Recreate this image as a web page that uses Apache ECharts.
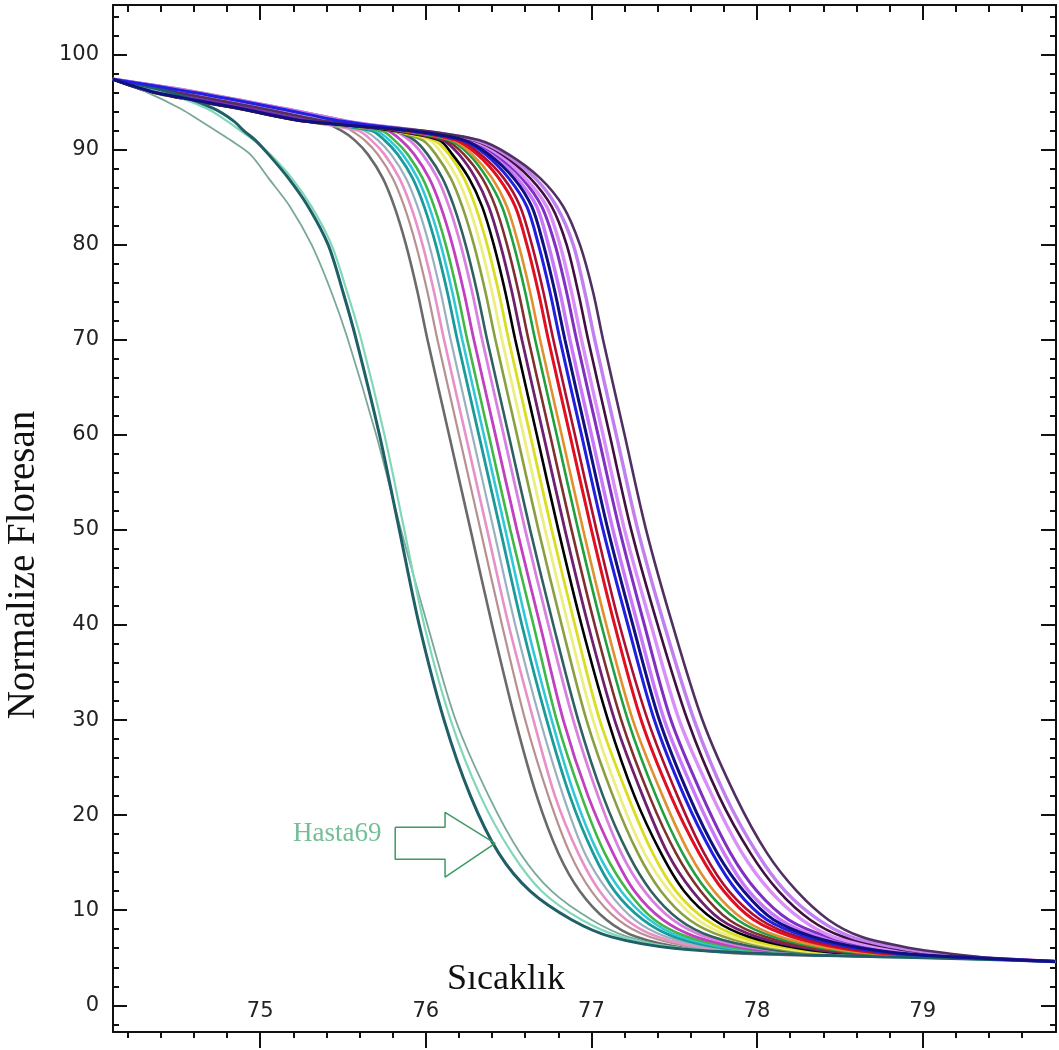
<!DOCTYPE html>
<html>
<head>
<meta charset="utf-8">
<script src="https://cdn.jsdelivr.net/npm/echarts/dist/echarts.min.js"></script>
<style>
html,body{margin:0;padding:0;background:#fff;}
#chart{width:1059px;height:1050px;}
</style>
</head>
<body>
<div id="chart"></div>
<script>
// Fluorescence levels (%) at which each curve's temperature was read
const levels = [97.4, 96.0, 94.3, 93.0, 92.0, 91.0, 89.5, 87, 84, 80, 75, 70, 60, 50, 40, 30, 22, 16, 12, 9, 7.2, 6.0, 5.4, 5.0, 4.6];

// Temperature (°C) at which each curve reaches the level above
const g1 = [74.11, 74.32, 74.52, 74.64, 74.73, 74.82, 74.94, 75.05, 75.18, 75.31, 75.43, 75.53, 75.70, 75.85, 76.01, 76.18, 76.38, 76.57, 76.76, 77.00, 77.22, 77.55, 78.20, 79.0, 79.8];
const g2 = [74.11, 74.42, 74.68, 74.80, 74.88, 74.96, 75.06, 75.19, 75.31, 75.43, 75.525, 75.61, 75.75, 75.87, 75.99, 76.15, 76.33, 76.52, 76.70, 76.94, 77.18, 77.55, 78.20, 79.0, 79.8];
const g3 = [74.11, 74.46, 74.72, 74.84, 74.90, 74.97, 75.05, 75.17, 75.29, 75.41, 75.50, 75.58, 75.72, 75.84, 75.96, 76.11, 76.27, 76.44, 76.63, 76.88, 77.12, 77.50, 78.10, 79.0, 79.8];
const m1 = [74.11, 74.48, 75.00, 75.36, 75.49, 75.57, 75.65, 75.74, 75.81, 75.88, 75.95, 76.01, 76.14, 76.27, 76.40, 76.54, 76.67, 76.80, 76.93, 77.09, 77.27, 77.57, 77.97, 79.3, 79.8];
const m2 = [74.11, 74.60, 75.12, 75.45, 75.55, 75.63, 75.71, 75.80, 75.87, 75.94, 76.01, 76.07, 76.20, 76.33, 76.46, 76.60, 76.74, 76.87, 77.00, 77.16, 77.35, 77.65, 78.04, 79.3, 79.8];
const m3 = [74.11, 74.36, 74.88, 75.26, 75.59, 75.67, 75.75, 75.84, 75.91, 75.98, 76.05, 76.11, 76.24, 76.37, 76.50, 76.65, 76.78, 76.92, 77.05, 77.21, 77.40, 77.70, 78.08, 79.3, 79.8];
const m4 = [74.11, 74.62, 75.14, 75.50, 75.63, 75.71, 75.79, 75.88, 75.95, 76.02, 76.09, 76.15, 76.28, 76.41, 76.54, 76.69, 76.83, 76.96, 77.10, 77.26, 77.45, 77.75, 78.13, 79.3, 79.8];
const m5 = [74.11, 74.38, 74.90, 75.28, 75.67, 75.75, 75.83, 75.92, 75.99, 76.06, 76.13, 76.19, 76.32, 76.45, 76.58, 76.73, 76.87, 77.01, 77.14, 77.31, 77.50, 77.80, 78.18, 79.3, 79.8];
const m6 = [74.11, 74.58, 75.11, 75.48, 75.70, 75.78, 75.86, 75.95, 76.02, 76.09, 76.16, 76.22, 76.35, 76.48, 76.61, 76.76, 76.90, 77.04, 77.18, 77.35, 77.54, 77.84, 78.21, 79.3, 79.8];
const m7 = [74.11, 74.35, 74.87, 75.25, 75.73, 75.81, 75.89, 75.98, 76.05, 76.12, 76.19, 76.25, 76.38, 76.51, 76.65, 76.79, 76.94, 77.08, 77.22, 77.38, 77.58, 77.88, 78.24, 79.3, 79.8];
const m8 = [74.11, 74.63, 75.15, 75.52, 75.77, 75.85, 75.93, 76.02, 76.09, 76.16, 76.23, 76.29, 76.42, 76.55, 76.69, 76.83, 76.98, 77.13, 77.26, 77.43, 77.63, 77.93, 78.29, 79.3, 79.8];
const m9 = [74.11, 74.40, 74.92, 75.30, 75.80, 75.90, 75.98, 76.07, 76.14, 76.21, 76.28, 76.34, 76.47, 76.60, 76.74, 76.89, 77.04, 77.18, 77.32, 77.49, 77.69, 77.99, 78.35, 79.3, 79.8];
const m10 = [74.11, 74.52, 75.04, 75.40, 75.80, 75.93, 76.01, 76.10, 76.17, 76.24, 76.31, 76.37, 76.50, 76.63, 76.77, 76.92, 77.07, 77.22, 77.36, 77.53, 77.73, 78.03, 78.38, 79.3, 79.8];
const m11 = [74.11, 74.61, 75.13, 75.50, 75.80, 75.98, 76.06, 76.15, 76.22, 76.29, 76.36, 76.42, 76.55, 76.68, 76.82, 76.97, 77.13, 77.28, 77.42, 77.59, 77.80, 78.10, 78.44, 79.3, 79.8];
const m12 = [74.11, 74.37, 74.89, 75.27, 75.80, 76.02, 76.10, 76.19, 76.26, 76.33, 76.40, 76.46, 76.59, 76.72, 76.86, 77.01, 77.17, 77.32, 77.47, 77.64, 77.85, 78.15, 78.48, 79.3, 79.8];
const m13 = [74.11, 74.64, 75.15, 75.52, 75.80, 76.05, 76.14, 76.23, 76.30, 76.37, 76.44, 76.50, 76.63, 76.76, 76.90, 77.05, 77.22, 77.37, 77.51, 77.69, 77.90, 78.20, 78.53, 79.3, 79.8];
const m14 = [74.11, 74.41, 74.93, 75.31, 75.80, 76.08, 76.16, 76.26, 76.34, 76.41, 76.48, 76.54, 76.67, 76.80, 76.94, 77.10, 77.26, 77.42, 77.56, 77.74, 77.95, 78.25, 78.57, 79.3, 79.8];
const m15 = [74.11, 74.57, 75.09, 75.46, 75.82, 76.10, 76.20, 76.30, 76.38, 76.45, 76.52, 76.58, 76.71, 76.84, 76.98, 77.14, 77.31, 77.46, 77.61, 77.78, 78.00, 78.30, 78.62, 79.3, 79.8];
const m16 = [74.11, 74.35, 74.87, 75.25, 75.84, 76.12, 76.23, 76.34, 76.42, 76.49, 76.56, 76.62, 76.75, 76.88, 77.02, 77.18, 77.35, 77.51, 77.66, 77.83, 78.05, 78.35, 78.67, 79.3, 79.8];
const m17 = [74.11, 74.62, 75.13, 75.50, 75.85, 76.14, 76.26, 76.37, 76.46, 76.53, 76.60, 76.66, 76.79, 76.92, 77.06, 77.22, 77.39, 77.55, 77.70, 77.88, 78.10, 78.40, 78.71, 79.3, 79.8];
const m18 = [74.11, 74.43, 74.95, 75.33, 75.86, 76.16, 76.28, 76.40, 76.49, 76.56, 76.63, 76.69, 76.82, 76.95, 77.09, 77.25, 77.43, 77.59, 77.74, 77.92, 78.14, 78.44, 78.75, 79.3, 79.8];
const m19 = [74.11, 74.56, 75.08, 75.45, 75.88, 76.18, 76.31, 76.44, 76.54, 76.61, 76.68, 76.74, 76.87, 77.00, 77.14, 77.30, 77.48, 77.65, 77.80, 77.98, 78.21, 78.51, 78.80, 79.3, 79.8];
const m20 = [74.11, 74.39, 74.91, 75.29, 75.88, 76.20, 76.33, 76.47, 76.57, 76.64, 76.71, 76.77, 76.90, 77.03, 77.17, 77.34, 77.52, 77.68, 77.83, 78.02, 78.25, 78.55, 78.84, 79.3, 79.8];
const m21 = [74.11, 74.60, 75.12, 75.49, 75.90, 76.22, 76.36, 76.50, 76.61, 76.68, 76.75, 76.81, 76.94, 77.07, 77.22, 77.38, 77.56, 77.73, 77.88, 78.06, 78.30, 78.60, 78.88, 79.3, 79.8];
const m22 = [74.11, 74.37, 74.89, 75.27, 75.90, 76.23, 76.38, 76.53, 76.64, 76.71, 76.78, 76.84, 76.97, 77.10, 77.25, 77.41, 77.59, 77.76, 77.92, 78.10, 78.34, 78.64, 78.92, 79.3, 79.8];
const m23 = [74.11, 74.63, 75.15, 75.52, 75.92, 76.24, 76.40, 76.55, 76.67, 76.74, 76.81, 76.87, 77.00, 77.13, 77.28, 77.44, 77.63, 77.80, 77.95, 78.14, 78.37, 78.67, 78.95, 79.3, 79.8];
const m24 = [74.11, 74.42, 74.94, 75.32, 75.93, 76.26, 76.42, 76.58, 76.70, 76.78, 76.85, 76.91, 77.04, 77.17, 77.32, 77.48, 77.67, 77.84, 78.00, 78.19, 78.43, 78.73, 79.00, 79.3, 79.8];
const m25 = [74.11, 74.59, 75.10, 75.47, 75.94, 76.27, 76.44, 76.60, 76.73, 76.81, 76.88, 76.94, 77.07, 77.20, 77.36, 77.53, 77.73, 77.91, 78.08, 78.27, 78.46, 78.76, 79.03, 79.32, 79.8];
const m26 = [74.11, 74.36, 74.88, 75.26, 75.95, 76.28, 76.46, 76.63, 76.76, 76.85, 76.92, 76.98, 77.11, 77.24, 77.40, 77.58, 77.77, 77.96, 78.13, 78.32, 78.52, 78.82, 79.08, 79.34, 79.8];
const m27 = [74.11, 74.61, 75.13, 75.50, 75.96, 76.30, 76.48, 76.66, 76.79, 76.89, 76.96, 77.02, 77.15, 77.28, 77.44, 77.62, 77.81, 78.00, 78.17, 78.37, 78.57, 78.87, 79.12, 79.36, 79.8];
const m28 = [74.11, 74.50, 75.02, 75.40, 75.98, 76.32, 76.50, 76.69, 76.83, 76.93, 77.01, 77.07, 77.20, 77.33, 77.49, 77.67, 77.87, 78.06, 78.24, 78.43, 78.63, 78.93, 79.18, 79.40, 79.8];

// drawing order (last drawn on top)
const curveList = [m1, m2, m3, m4, m5, m6, m7, m8, m9, m10, m11, m12, m13, m14, m15, m16, m17, m18, m19, m20, m23, m24, m25, m26, m27, m28, g1, g2, g3, m21, m22];
const curveColors = ['#6a6a6a', '#b89090', '#e890c8', '#9ab0c0', '#1a9a9a', '#30c8d8', '#40b848', '#c040c0', '#d880e0', '#306060', '#8aa040', '#eeee80', '#dcdc20', '#000000', '#702070', '#803030', '#20a040', '#e09030', '#e01020', '#b01030', '#c878f8', '#8030c0', '#d890f8', '#401040', '#c080f0', '#503060', '#7aa898', '#80d8b8', '#1f6068', '#2020e0', '#101080'];
const curveWidths = [2.6, 2.2, 2.6, 2.2, 2.8, 2.6, 2.6, 2.8, 2.8, 2.6, 2.6, 2.8, 2.8, 2.6, 2.8, 2.6, 2.6, 2.6, 3, 2.6, 3.4, 3, 3.4, 2.6, 3.4, 2.6, 1.8, 2.2, 3, 3, 3];

// axes
const xRange = [74.111, 79.805];
const yRange = [-2.81, 105.21];
const xMajor = [75, 76, 77, 78, 79];
const xMinor = [74.2, 74.4, 74.6, 74.8, 75.2, 75.4, 75.6, 75.8, 76.2, 76.4, 76.6, 76.8, 77.2, 77.4, 77.6, 77.8, 78.2, 78.4, 78.6, 78.8, 79.2, 79.4, 79.6];
const yMajor = [0, 10, 20, 30, 40, 50, 60, 70, 80, 90, 100];
const yMinor = [-2, 2, 4, 6, 8, 12, 14, 16, 18, 22, 24, 26, 28, 32, 34, 36, 38, 42, 44, 46, 48, 52, 54, 56, 58, 62, 64, 66, 68, 72, 74, 76, 78, 82, 84, 86, 88, 92, 94, 96, 98, 102, 104];

// annotation
const arrowT = [75.815, 76.116, 76.116, 76.418, 76.116, 76.116, 75.815, 75.815];
const arrowV = [18.73, 18.73, 20.30, 17.04, 13.47, 15.36, 15.36, 18.73];
const noteText = 'Hasta69';
const notePos = [75.465, 18.0];
const xTitle = 'Sıcaklık';
const yTitle = 'Normalize Floresan';

const AX = '#111';
function xAx(pos, ticks, len, inside, withLabels, withLine) {
  return {
    type: 'value', position: pos, min: xRange[0], max: xRange[1],
    axisLine: {show: withLine, onZero: false, lineStyle: {color: AX, width: 2}},
    axisTick: {show: true, inside: inside, length: len, customValues: ticks, lineStyle: {color: AX, width: 2}},
    axisLabel: withLabels ? {show: true, inside: true, margin: 10, customValues: xMajor, fontSize: 21,
      fontFamily: 'DejaVu Sans', color: '#222'} : {show: false},
    splitLine: {show: false}
  };
}
function yAx(pos, ticks, len, withLabels, withLine) {
  return {
    type: 'value', position: pos, min: yRange[0], max: yRange[1],
    axisLine: {show: withLine, onZero: false, lineStyle: {color: AX, width: 2}},
    axisTick: {show: true, inside: true, length: len, customValues: ticks, lineStyle: {color: AX, width: 2}},
    axisLabel: withLabels ? {show: true, margin: 14, customValues: yMajor, fontSize: 21,
      fontFamily: 'DejaVu Sans', color: '#222'} : {show: false},
    splitLine: {show: false}
  };
}

const series = curveList.map((temps, i) => ({
  type: 'line',
  data: temps.map((t, k) => [t, levels[k]]),
  showSymbol: false,
  smooth: 0.3,
  lineStyle: {color: curveColors[i], width: curveWidths[i]},
  z: 2,
  silent: true
}));
series.push({
  type: 'line',
  data: arrowT.map((t, k) => [t, arrowV[k]]),
  showSymbol: false,
  smooth: false,
  lineStyle: {color: '#3d9a60', width: 1.5},
  silent: true, z: 5
});
series.push({
  type: 'scatter',
  data: [notePos],
  symbolSize: 1,
  itemStyle: {color: 'rgba(0,0,0,0)'},
  label: {show: true, position: 'inside', formatter: noteText, fontFamily: 'Liberation Serif',
    fontSize: 27, color: '#4fae7d'},
  silent: true, z: 5
});

const chart = echarts.init(document.getElementById('chart'), null, {renderer: 'canvas'});
chart.setOption({
  animation: false,
  backgroundColor: '#ffffff',
  grid: {left: 113, right: 3, top: 5, bottom: 18, containLabel: false},
  xAxis: [
    xAx('bottom', xMajor, 16, false, true, true),
    xAx('bottom', xMinor, 6, false, false, false),
    xAx('top', xMajor, 15, true, false, true),
    xAx('top', xMinor, 7, true, false, false)
  ],
  yAxis: [
    yAx('left', yMajor, 14, true, true),
    yAx('left', yMinor, 6, false, false),
    yAx('right', yMajor, 15, false, true),
    yAx('right', yMinor, 6, false, false)
  ],
  series: series,
  graphic: [
    {type: 'text', z: 10, style: {x: 506, y: 980, text: xTitle, textAlign: 'center', textVerticalAlign: 'middle',
      font: '36px "Liberation Serif"', fill: '#111'}},
    {type: 'text', z: 10, x: 24, y: 565, rotation: Math.PI / 2,
      style: {x: 0, y: 0, text: yTitle, textAlign: 'center', textVerticalAlign: 'middle',
      font: '39px "Liberation Serif"', fill: '#111'}}
  ]
});
</script>
</body>
</html>
